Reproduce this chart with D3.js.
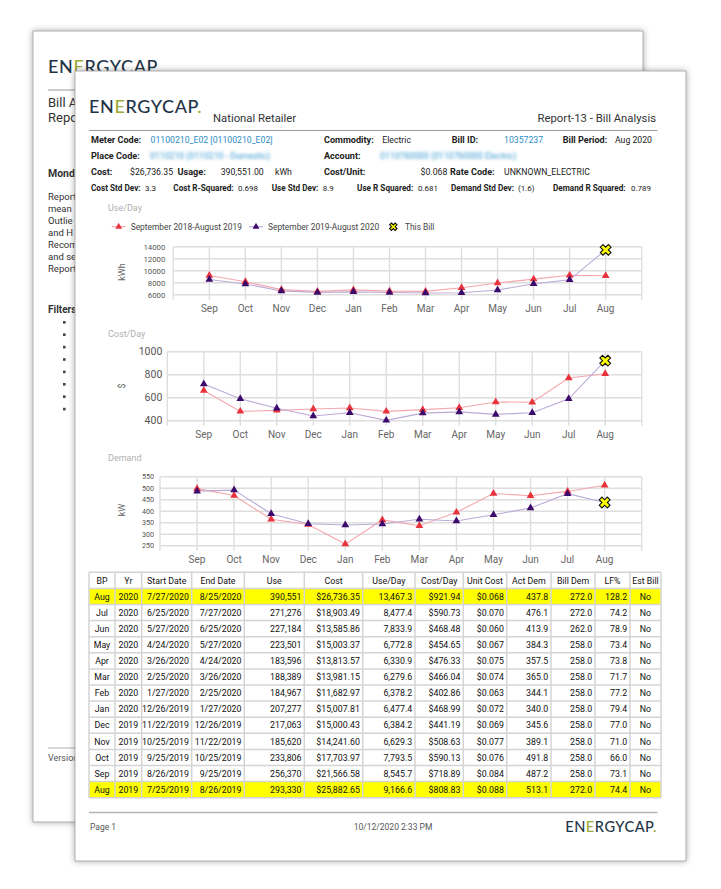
<!DOCTYPE html>
<html><head><meta charset="utf-8">
<script src="https://cdn.jsdelivr.net/npm/d3@7"></script>
<style>body{margin:0;background:#fff;} svg{display:block;font-family:Roboto,"Noto Sans",sans-serif;}</style>
</head><body>
<svg id="c" width="721" height="889"></svg>
<script>
// ---------- DATA ----------
const months = ["Sep","Oct","Nov","Dec","Jan","Feb","Mar","Apr","May","Jun","Jul","Aug"];
const seriesNames = ["September 2018-August 2019","September 2019-August 2020","This Bill"];
const usePrev  = [9200, 8150, 6850, 6550, 6800, 6600, 6550, 7150, 7950, 8600, 9250, 9166.6];
const costPrev = [663, 481, 490, 502, 510, 481, 496, 513, 563, 560, 771, 808.83];
const demPrev  = [498, 468, 365, 342, 257, 362, 337, 395, 477, 467, 486, 513.1];
const useTicks = [6000, 8000, 10000, 12000, 14000];
const costTicks = [400, 600, 800, 1000];
const demTicks = [250, 300, 350, 400, 450, 500, 550];

const tableHead = ["BP","Yr","Start Date","End Date","Use","Cost","Use/Day","Cost/Day","Unit Cost","Act Dem","Bill Dem","LF%","Est Bill"];
const bp = ["Aug","Jul","Jun","May","Apr","Mar","Feb","Jan","Dec","Nov","Oct","Sep","Aug"];
const yr = ["2020","2020","2020","2020","2020","2020","2020","2020","2019","2019","2019","2019","2019"];
const startDate = ["7/27/2020","6/25/2020","5/27/2020","4/24/2020","3/26/2020","2/25/2020","1/27/2020","12/26/2019","11/22/2019","10/25/2019","9/25/2019","8/26/2019","7/25/2019"];
const endDate = ["8/25/2020","7/27/2020","6/25/2020","5/27/2020","4/24/2020","3/26/2020","2/25/2020","1/27/2020","12/26/2019","11/22/2019","10/25/2019","9/25/2019","8/26/2019"];
const useVal = [390551,271276,227184,223501,183596,188389,184967,207277,217063,185620,233806,256370,293330];
const costVal = [26736.35,18903.49,13585.86,15003.37,13813.57,13981.15,11682.97,15007.81,15000.43,14241.60,17703.97,21566.58,25882.65];
const useDay = [13467.3,8477.4,7833.9,6772.8,6330.9,6279.6,6378.2,6477.4,6384.2,6629.3,7793.5,8545.7,9166.6];
const costDay = [921.94,590.73,468.48,454.65,476.33,466.04,402.86,468.99,441.19,508.63,590.13,718.89,808.83];
const unitCost = [0.068,0.070,0.060,0.067,0.075,0.074,0.063,0.072,0.069,0.077,0.076,0.084,0.088];
const actDem = [437.8,476.1,413.9,384.3,357.5,365.0,344.1,340.0,345.6,389.1,491.8,487.2,513.1];
const billDem = [272.0,272.0,262.0,258.0,258.0,258.0,258.0,258.0,258.0,258.0,258.0,258.0,272.0];
const lfPct = [128.2,74.2,78.9,73.4,73.8,71.7,77.2,79.4,77.0,71.0,66.0,73.1,74.4];
const estBill = ["No","No","No","No","No","No","No","No","No","No","No","No","No"];
const highlightRows = [0, 12];

// current period (Sep 2019 - Aug 2020) from the table
const useCurr  = useDay.slice(0, 12).reverse();
const costCurr = costDay.slice(0, 12).reverse();
const demCurr  = actDem.slice(0, 12).reverse();

// ---------- DRAW ----------
const svg = d3.select("#c");
const defs = svg.append("defs");
const sh = defs.append("filter").attr("id","sh").attr("x","-10%").attr("y","-10%").attr("width","120%").attr("height","120%");
sh.append("feDropShadow").attr("dx",0).attr("dy",0).attr("stdDeviation",3).attr("flood-color","#000").attr("flood-opacity",0.35);
const bl = defs.append("filter").attr("id","blur").attr("x","-10%").attr("y","-50%").attr("width","120%").attr("height","200%");
bl.append("feGaussianBlur").attr("stdDeviation",1.6);
defs.append("clipPath").attr("id","backclip").append("rect").attr("x",33).attr("y",31).attr("width",42).attr("height",791);

function T(p, x, y, s, o = {}) {
  const t = p.append("text").attr("x", x).attr("y", y).text(s)
    .attr("font-size", o.size || 9.5).attr("fill", o.fill || "#222");
  if (o.bold) t.attr("font-weight", "bold");
  if (o.anchor) t.attr("text-anchor", o.anchor);
  if (o.filter) t.attr("filter", o.filter);
  if (o.transform) t.attr("transform", o.transform);
  return t;
}
function logo(p, x, y, size, anchor) {
  const t = p.append("text").attr("x", x).attr("y", y).attr("font-size", size)
    .attr("font-family", "Lato, Roboto, sans-serif").attr("font-weight", 500)
    .attr("letter-spacing", size * 0.035).attr("fill", "#1f3547");
  if (anchor) t.attr("text-anchor", anchor);
  t.append("tspan").text("EN");
  t.append("tspan").text("E").attr("fill", "#9bab35");
  t.append("tspan").text("RGYCAP");
  t.append("tspan").text(".").attr("fill", "#9bab35");
}

// back page
svg.append("rect").attr("x",33).attr("y",31).attr("width",610).attr("height",791)
  .attr("fill","#fff").attr("stroke","#9c9c9c").attr("stroke-width",0.8).attr("filter","url(#sh)");
const back = svg.append("g").attr("clip-path","url(#backclip)");
logo(svg, 48, 72.5, 18);
back.append("line").attr("x1",48).attr("x2",300).attr("y1",90).attr("y2",90).attr("stroke","#9a9a9a").attr("stroke-width",1);
T(back, 48, 107, "Bill A", {size: 13, fill: "#333"});
T(back, 48, 122, "Repo", {size: 13, fill: "#333"});
T(back, 48, 176.5, "Mond", {size: 10.5, bold: true, fill: "#333"});
["Report","mean","Outlie","and H","Recom","and se","Report"].forEach((s, i) =>
  T(back, 48, 200 + i * 12, s, {size: 9.5, fill: "#333"}));
T(back, 48, 313, "Filters", {size: 10, bold: true, fill: "#333"});
d3.range(8).forEach(i => back.append("rect").attr("x", 63).attr("y", 321 + i * 12.4).attr("width", 2.6).attr("height", 2.6).attr("fill", "#444"));
back.append("line").attr("x1",48).attr("x2",300).attr("y1",748).attr("y2",748).attr("stroke","#b0b0b0").attr("stroke-width",1);
T(back, 48, 761, "Version", {size: 9, fill: "#555"});

// front page
svg.append("rect").attr("x",75).attr("y",71).attr("width",611).attr("height",790)
  .attr("fill","#fff").attr("stroke","#9c9c9c").attr("stroke-width",0.8).attr("filter","url(#sh)");
const fp = svg.append("g");
logo(fp, 89, 112.5, 18);
T(fp, 213, 121.5, "National Retailer", {size: 11.3, fill: "#333"});
T(fp, 656, 121.5, "Report-13 - Bill Analysis", {size: 11.3, fill: "#333", anchor: "end"});
fp.append("line").attr("x1",89).attr("x2",657.5).attr("y1",130.5).attr("y2",130.5).attr("stroke","#9a9a9a").attr("stroke-width",1.2);

const blue = "#2a8dc5";
const hs = 9.1, vs = 8.7;
// row 1
T(fp, 91, 142.6, "Meter Code:", {size: hs, bold: true});
T(fp, 150.5, 142.6, "01100210_E02 [01100210_E02]", {size: vs, fill: blue});
T(fp, 324, 142.6, "Commodity:", {size: hs, bold: true});
T(fp, 382.3, 142.6, "Electric", {size: vs});
T(fp, 451.7, 142.6, "Bill ID:", {size: hs, bold: true});
T(fp, 504, 142.6, "10357237", {size: vs, fill: blue});
T(fp, 562.7, 142.6, "Bill Period:", {size: hs, bold: true});
T(fp, 615, 142.6, "Aug 2020", {size: vs});
// row 2
T(fp, 91, 159, "Place Code:", {size: hs, bold: true});
T(fp, 150, 159, "0110210 (0110210 - Domestic)", {size: vs, fill: "#3a9ad0", filter: "url(#blur)"});
T(fp, 324, 159, "Account:", {size: hs, bold: true});
T(fp, 380, 159, "0110760000 (0110760000 Electric)", {size: vs, fill: "#3a9ad0", filter: "url(#blur)"});
// row 3
T(fp, 91, 175, "Cost:", {size: hs, bold: true});
T(fp, 130, 175, "$26,736.35", {size: vs});
T(fp, 177.5, 175, "Usage:", {size: hs, bold: true});
T(fp, 220.7, 175, "390,551.00", {size: vs});
T(fp, 275, 175, "kWh", {size: vs});
T(fp, 324, 175, "Cost/Unit:", {size: hs, bold: true});
T(fp, 447.3, 175, "$0.068", {size: vs, anchor: "end"});
T(fp, 450, 175, "Rate Code:", {size: hs, bold: true});
T(fp, 504, 175, "UNKNOWN_ELECTRIC", {size: vs});
// row 4
const ss = 8.2, sv = 8;
[[91,"Cost Std Dev:",1],[145,"3.3",0],[173.3,"Cost R-Squared:",1],[238,"0.698",0],[271.7,"Use Std Dev:",1],[322.7,"8.9",0],
 [357,"Use R Squared:",1],[418,"0.681",0],[451,"Demand Std Dev:",1],[518,"(1.6)",0],[553,"Demand R Squared:",1],[631,"0.789",0]]
 .forEach(([x, s, b]) => T(fp, x, 190.6, s, {size: b ? ss : sv, bold: !!b}));

// charts
const redLine = "#f5a7ad", redMark = "#e8323c", purLine = "#bcaad6", purMark = "#3b0a6b";
const tri = d3.symbol(d3.symbolTriangle, 26)();
const xBig = d3.symbol(d3.symbolCross, 72)();
const xSmall = d3.symbol(d3.symbolCross, 34)();

function xMark(p, x, y, path) {
  p.append("path").attr("d", path).attr("transform", `translate(${x},${y}) rotate(45)`)
    .attr("fill", "#ffff00").attr("stroke", "#111").attr("stroke-width", 1.1);
}

function chart(cfg, prev, curr) {
  const g = fp.append("g");
  const x = d3.scalePoint().domain(months).range([cfg.left, cfg.right]).padding(1);
  const y = d3.scaleLinear().domain(d3.extent(cfg.ticks)).range([cfg.bottom, cfg.top]);
  T(g, 108, cfg.titleY, cfg.title, {size: 9, fill: "#b0b0b0"});
  T(g, 0, 0, cfg.unit, {size: 9, fill: "#666", anchor: "middle", transform: `translate(124.5,${cfg.unitY}) rotate(-90)`});
  // grid
  g.selectAll(".hg").data(cfg.ticks).join("line")
    .attr("x1", cfg.left).attr("x2", cfg.right).attr("y1", d => y(d)).attr("y2", d => y(d))
    .attr("stroke", "#dedede").attr("stroke-width", 1.4);
  g.selectAll(".vg").data([cfg.left, ...months.map(m => x(m)), cfg.right]).join("line")
    .attr("x1", d => d).attr("x2", d => d).attr("y1", cfg.top).attr("y2", cfg.bottom + 5)
    .attr("stroke", "#dedede").attr("stroke-width", 1.4);
  // y labels
  g.selectAll(".yl").data(cfg.ticks).join("text")
    .attr("x", cfg.left - cfg.gap).attr("y", d => y(d) + cfg.tickSize * 0.36)
    .attr("text-anchor", "end").attr("font-size", cfg.tickSize).attr("fill", "#555").text(d => d);
  // x labels
  g.selectAll(".xl").data(months).join("text")
    .attr("x", d => x(d)).attr("y", cfg.xLabelY + 3.6).attr("text-anchor", "middle")
    .attr("font-size", 10).attr("fill", "#666").text(d => d);
  // lines
  const line = d3.line().x((d, i) => x(months[i])).y(d => y(d));
  g.append("path").attr("d", line(prev)).attr("fill", "none").attr("stroke", redLine).attr("stroke-width", 1.1);
  g.append("path").attr("d", line(curr)).attr("fill", "none").attr("stroke", purLine).attr("stroke-width", 1.1);
  prev.forEach((v, i) => g.append("path").attr("d", tri).attr("transform", `translate(${x(months[i])},${y(v)})`).attr("fill", redMark));
  curr.slice(0, 11).forEach((v, i) => g.append("path").attr("d", tri).attr("transform", `translate(${x(months[i])},${y(v)})`).attr("fill", purMark));
  xMark(g, x(months[11]), y(curr[11]), xBig);
}

// legend for first chart
(function legend() {
  const ly = 226.7;
  const items = [{x: 111.7, c1: redLine, c2: redMark}, {x: 249, c1: purLine, c2: purMark}];
  items.forEach((it, i) => {
    fp.append("line").attr("x1", it.x).attr("x2", it.x + 14).attr("y1", ly).attr("y2", ly).attr("stroke", it.c1).attr("stroke-width", 1.2);
    fp.append("path").attr("d", d3.symbol(d3.symbolTriangle, 20)()).attr("transform", `translate(${it.x + 7},${ly})`).attr("fill", it.c2);
    T(fp, it.x + 19, ly + 3, seriesNames[i], {size: 8.4, fill: "#444"});
  });
  xMark(fp, 393.3, ly, xSmall);
  T(fp, 405, ly + 3, seriesNames[2], {size: 8.4, fill: "#444"});
})();

chart({title: "Use/Day", titleY: 210.5, unit: "kWh", unitY: 272, left: 173.3, right: 641.7, top: 246.7, bottom: 294.7,
       ticks: useTicks, tickSize: 7.8, gap: 8, xLabelY: 308.3}, usePrev, useCurr);
chart({title: "Cost/Day", titleY: 336.5, unit: "$", unitY: 386, left: 167.3, right: 641.7, top: 351.7, bottom: 420.7,
       ticks: costTicks, tickSize: 10.5, gap: 5, xLabelY: 434.3}, costPrev, costCurr);
chart({title: "Demand", titleY: 461, unit: "kW", unitY: 510, left: 160, right: 641.7, top: 476.7, bottom: 545.7,
       ticks: demTicks, tickSize: 7.2, gap: 6, xLabelY: 559.3}, demPrev, demCurr);

// table
(function table() {
  const edges = [89,115,141.7,191.7,244.3,304.3,362.7,415,463.3,506.7,551,595,630,661];
  const top = 572.3, rh = 16.1;
  const align = ["middle","middle","end","end","end","end","end","end","end","end","end","end","middle"];
  const f1 = d3.format(".1f"), fc = d3.format(",.2f"), fu = d3.format(",");
  const cols = [bp, yr, startDate, endDate, useVal.map(fu), costVal.map(v => "$" + fc(v)), useDay.map(d3.format(",.1f")),
                costDay.map(v => "$" + fc(v)), unitCost.map(v => "$" + d3.format(".3f")(v)), actDem.map(f1), billDem.map(f1), lfPct.map(f1), estBill];
  const g = fp.append("g");
  const nRows = bp.length + 1;
  highlightRows.forEach(r => g.append("rect").attr("x", edges[0]).attr("y", top + (r + 1) * rh)
    .attr("width", edges[edges.length - 1] - edges[0]).attr("height", rh).attr("fill", "#ffff00"));
  d3.range(nRows + 1).forEach(r => g.append("line").attr("x1", edges[0]).attr("x2", edges[edges.length - 1])
    .attr("y1", top + r * rh).attr("y2", top + r * rh).attr("stroke", "#d4d4d4").attr("stroke-width", 1.5));
  edges.forEach(e => g.append("line").attr("x1", e).attr("x2", e).attr("y1", top).attr("y2", top + nRows * rh)
    .attr("stroke", "#d4d4d4").attr("stroke-width", 1.5));
  const tx = (c) => align[c] === "middle" ? (edges[c] + edges[c + 1]) / 2 : edges[c + 1] - 2.8;
  tableHead.forEach((h, c) => T(g, (edges[c] + edges[c + 1]) / 2, top + rh / 2 + 3.2, h, {size: 8.8, fill: "#111", anchor: "middle"}));
  cols.forEach((col, c) => col.forEach((v, r) =>
    T(g, tx(c), top + (r + 1) * rh + rh / 2 + 3.2, v, {size: 8.8, fill: "#111", anchor: align[c]})));
})();

// footer
fp.append("line").attr("x1",89).attr("x2",657.5).attr("y1",812.5).attr("y2",812.5).attr("stroke","#b5b5b5").attr("stroke-width",1.5);
T(fp, 90, 830, "Page 1", {size: 8.5, fill: "#555"});
T(fp, 393, 830, "10/12/2020 2:33 PM", {size: 8.5, fill: "#555", anchor: "middle"});
logo(fp, 657, 832, 14.6, "end");
</script>
</body></html>
